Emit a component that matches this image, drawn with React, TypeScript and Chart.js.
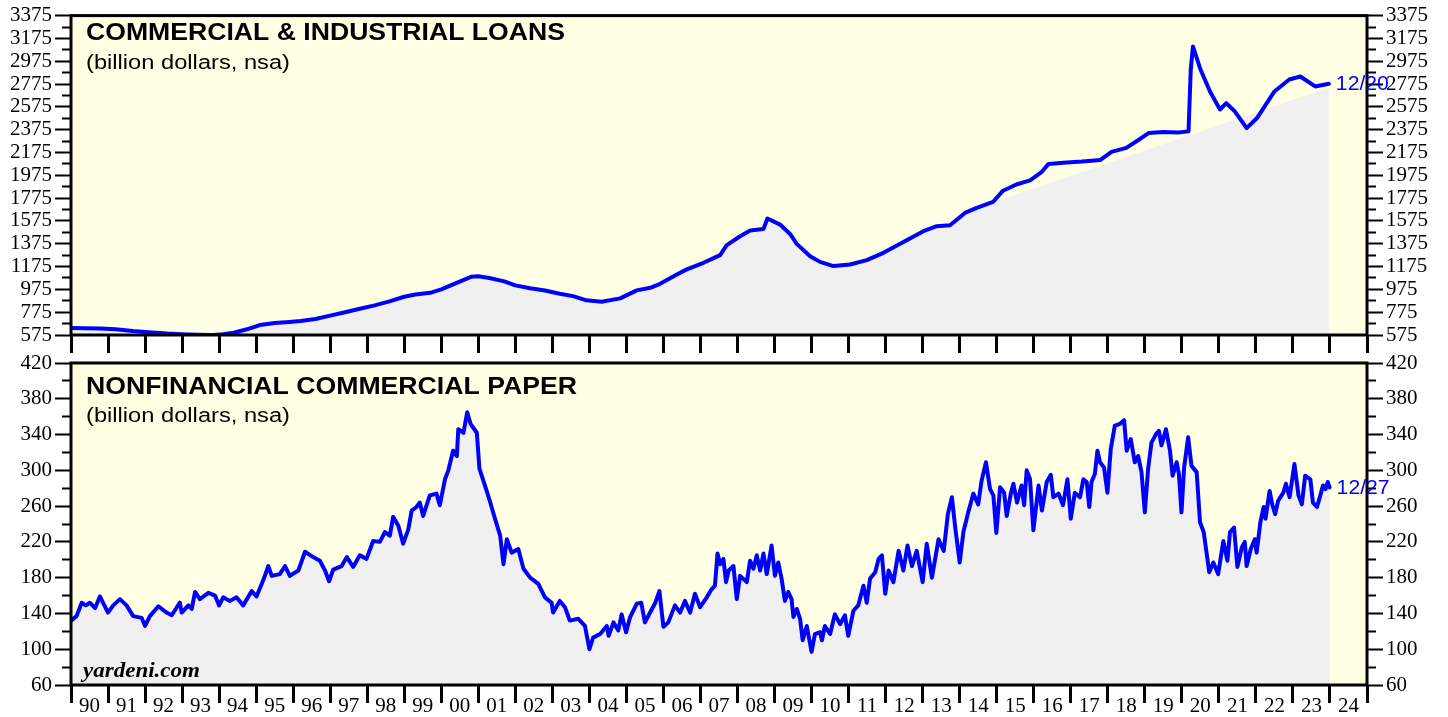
import React, { useEffect, useRef } from 'react';
import { Chart, registerables } from 'chart.js';

Chart.register(...registerables);

// ---------------- DATA ----------------
// Commercial & Industrial loans (billion dollars, nsa), decimal-year dates
const ciDates = [
  1990.0, 1990.4, 1990.8, 1991.2, 1991.67, 1992.1, 1992.6, 1993.0, 1993.4, 1993.84,
  1994.1, 1994.4, 1994.75, 1995.1, 1995.5, 1995.9, 1996.2, 1996.6, 1997.0, 1997.4,
  1997.8, 1998.2, 1998.6, 1999.0, 1999.3, 1999.7, 2000.0, 2000.4, 2000.8, 2001.0,
  2001.3, 2001.7, 2002.0, 2002.4, 2002.8, 2003.2, 2003.56, 2003.92, 2004.33, 2004.83,
  2005.28, 2005.64, 2005.91, 2006.36, 2006.63, 2007.08, 2007.53, 2007.71, 2008.07, 2008.34,
  2008.7, 2008.81, 2009.15, 2009.42, 2009.6, 2009.96, 2010.23, 2010.59, 2011.04, 2011.49,
  2011.94, 2012.48, 2013.02, 2013.38, 2013.74, 2014.14, 2014.46, 2014.9, 2015.17, 2015.53,
  2015.9, 2016.2, 2016.4, 2016.8, 2017.3, 2017.8, 2018.1, 2018.5, 2018.9, 2019.1,
  2019.5, 2019.9, 2020.18, 2020.24, 2020.3, 2020.49, 2020.76, 2021.03, 2021.2, 2021.43,
  2021.75, 2022.03, 2022.5, 2022.9, 2023.2, 2023.6, 2023.97,
];
const ciValues = [
  636, 634, 633, 625, 610, 600, 588, 582, 578, 575,
  582, 595, 625, 662, 680, 690, 697, 715, 745, 775,
  805, 835, 870, 910, 930, 945, 975, 1030, 1085, 1090,
  1075, 1045, 1010, 985, 965, 936, 916, 879, 866, 896,
  966, 989, 1024, 1106, 1150, 1208, 1275, 1363, 1441, 1491,
  1505, 1596, 1543, 1461, 1374, 1266, 1216, 1179, 1193, 1231,
  1295, 1391, 1485, 1529, 1537, 1645, 1689, 1741, 1840, 1894,
  1930, 2000, 2075, 2085, 2095, 2110, 2180, 2215, 2300, 2345,
  2355, 2350, 2360, 2900, 3105, 2914, 2710, 2552, 2607, 2535,
  2389, 2477, 2710, 2815, 2841, 2754, 2777,
];
// gray shaded area: follows the series up to the first date, then runs straight to the second
const ciShadeDates = [2014.46, 2023.97];
const ciShadeValues = [1689, 2745];

// Nonfinancial commercial paper (billion dollars, nsa)
const cpDates = [
  1990.0, 1990.15, 1990.29, 1990.4, 1990.51, 1990.65, 1990.78, 1991.0, 1991.14, 1991.32,
  1991.5, 1991.68, 1991.91, 1992.0, 1992.13, 1992.36, 1992.58, 1992.72, 1992.94, 1992.99,
  1993.17, 1993.26, 1993.35, 1993.48, 1993.71, 1993.89, 1994.0, 1994.11, 1994.29, 1994.47,
  1994.65, 1994.88, 1995.01, 1995.19, 1995.33, 1995.42, 1995.64, 1995.78, 1995.91, 1996.14,
  1996.32, 1996.54, 1996.72, 1996.86, 1996.97, 1997.08, 1997.31, 1997.45, 1997.62, 1997.8,
  1997.98, 1998.16, 1998.34, 1998.48, 1998.61, 1998.7, 1998.84, 1998.97, 1999.11, 1999.2,
  1999.33, 1999.42, 1999.51, 1999.69, 1999.87, 1999.96, 2000.1, 2000.19, 2000.32, 2000.42,
  2000.46, 2000.6, 2000.7, 2000.79, 2000.96, 2001.03, 2001.18, 2001.31, 2001.45, 2001.59,
  2001.68, 2001.77, 2001.9, 2002.08, 2002.22, 2002.4, 2002.62, 2002.8, 2002.98, 2003.02,
  2003.2, 2003.34, 2003.47, 2003.7, 2003.88, 2004.0, 2004.1, 2004.29, 2004.47, 2004.52,
  2004.65, 2004.78, 2004.87, 2004.99, 2005.1, 2005.28, 2005.4, 2005.5, 2005.64, 2005.78,
  2005.89, 2006.0, 2006.13, 2006.31, 2006.45, 2006.58, 2006.72, 2006.85, 2006.99, 2007.17,
  2007.3, 2007.39, 2007.46, 2007.53, 2007.62, 2007.69, 2007.76, 2007.89, 2007.98, 2008.07,
  2008.25, 2008.34, 2008.43, 2008.52, 2008.61, 2008.7, 2008.79, 2008.92, 2009.01, 2009.1,
  2009.19, 2009.28, 2009.37, 2009.46, 2009.51, 2009.6, 2009.69, 2009.76, 2009.87, 2010.0,
  2010.09, 2010.23, 2010.28, 2010.36, 2010.5, 2010.63, 2010.77, 2010.9, 2010.99, 2011.13,
  2011.26, 2011.4, 2011.49, 2011.58, 2011.72, 2011.81, 2011.9, 2011.99, 2012.08, 2012.21,
  2012.35, 2012.48, 2012.59, 2012.71, 2012.84, 2013.0, 2013.11, 2013.25, 2013.43, 2013.57,
  2013.68, 2013.79, 2013.88, 2014.0, 2014.1, 2014.23, 2014.37, 2014.5, 2014.59, 2014.71,
  2014.82, 2014.91, 2014.99, 2015.09, 2015.2, 2015.27, 2015.38, 2015.45, 2015.55, 2015.67,
  2015.74, 2015.81, 2015.9, 2015.99, 2016.13, 2016.22, 2016.35, 2016.46, 2016.53, 2016.67,
  2016.79, 2016.91, 2017.0, 2017.11, 2017.25, 2017.34, 2017.43, 2017.5, 2017.56, 2017.65,
  2017.72, 2017.79, 2017.9, 2017.99, 2018.08, 2018.19, 2018.33, 2018.44, 2018.51, 2018.62,
  2018.73, 2018.82, 2018.91, 2019.0, 2019.09, 2019.18, 2019.31, 2019.38, 2019.45, 2019.57,
  2019.68, 2019.75, 2019.86, 2019.92, 2019.99, 2020.06, 2020.17, 2020.26, 2020.4, 2020.49,
  2020.59, 2020.67, 2020.74, 2020.85, 2020.98, 2021.12, 2021.23, 2021.3, 2021.41, 2021.5,
  2021.62, 2021.7, 2021.75, 2021.86, 2021.97, 2022.02, 2022.12, 2022.21, 2022.26, 2022.37,
  2022.44, 2022.52, 2022.6, 2022.74, 2022.81, 2022.91, 2023.04, 2023.15, 2023.24, 2023.33,
  2023.47, 2023.54, 2023.65, 2023.74, 2023.81, 2023.88, 2023.94, 2023.99,
];
const cpValues = [
  132, 137, 152, 149, 152, 146, 159, 141, 149, 156,
  149, 137, 135, 126, 137, 148, 141, 138, 152, 141,
  149, 145, 164, 156, 163, 160, 149, 158, 154, 158,
  149, 165, 159, 177, 193, 182, 184, 193, 182, 188,
  209, 203, 199, 188, 176, 189, 193, 203, 192, 205,
  201, 221, 220, 231, 227, 248, 238, 218, 234, 255,
  259, 264, 249, 272, 274, 261, 290, 300, 322, 316,
  346, 342, 365, 352, 342, 302, 283, 266, 246, 227,
  195, 223, 208, 212, 190, 180, 173, 158, 152, 141,
  154, 147, 132, 134, 126, 100, 113, 117, 126, 115,
  130, 121, 139, 119, 136, 151, 152, 130, 141, 152,
  165, 125, 130, 149, 141, 154, 141, 162, 147, 158,
  167, 171, 207, 195, 201, 175, 188, 193, 156, 182,
  175, 199, 190, 205, 188, 207, 184, 216, 182, 197,
  179, 154, 164, 156, 136, 145, 134, 110, 126, 97,
  117, 119, 110, 126, 117, 139, 128, 138, 115, 143,
  149, 171, 152, 179, 186, 201, 205, 162, 188, 175,
  210, 188, 216, 193, 210, 175, 218, 180, 223, 210,
  251, 270, 236, 197, 231, 253, 274, 262, 288, 309,
  279, 272, 230, 281, 275, 249, 274, 285, 264, 283,
  261, 300, 290, 233, 283, 255, 287, 295, 270, 274,
  261, 290, 246, 275, 270, 290, 287, 259, 287, 296,
  322, 309, 303, 275, 324, 350, 352, 356, 322, 335,
  309, 316, 298, 253, 302, 331, 341, 344, 328, 346,
  322, 294, 309, 296, 253, 303, 337, 305, 298, 242,
  231, 207, 186, 197, 184, 221, 199, 231, 236, 192,
  214, 220, 193, 212, 223, 208, 242, 259, 246, 277,
  262, 251, 266, 275, 285, 270, 307, 272, 262, 294,
  290, 264, 259, 272, 283, 279, 287, 281,
];

// Axis ticks
const yearTicks = [
  1990, 1991, 1992, 1993, 1994, 1995, 1996, 1997, 1998, 1999, 2000, 2001,
  2002, 2003, 2004, 2005, 2006, 2007, 2008, 2009, 2010, 2011, 2012, 2013,
  2014, 2015, 2016, 2017, 2018, 2019, 2020, 2021, 2022, 2023, 2024, 2025,
];
const yearLabels = [
  '90', '91', '92', '93', '94', '95', '96', '97', '98', '99', '00', '01',
  '02', '03', '04', '05', '06', '07', '08', '09', '10', '11', '12', '13',
  '14', '15', '16', '17', '18', '19', '20', '21', '22', '23', '24', '',
];
const ciMajorTicks = [575, 775, 975, 1175, 1375, 1575, 1775, 1975, 2175, 2375, 2575, 2775, 2975, 3175, 3375];
const ciMinorTicks = [675, 875, 1075, 1275, 1475, 1675, 1875, 2075, 2275, 2475, 2675, 2875, 3075, 3275];
const cpMajorTicks = [60, 100, 140, 180, 220, 260, 300, 340, 380, 420];
const cpMinorTicks = [80, 120, 160, 200, 240, 280, 320, 360, 400];

const ciTitle = 'COMMERCIAL & INDUSTRIAL LOANS';
const cpTitle = 'NONFINANCIAL COMMERCIAL PAPER';
const unitsText = '(billion dollars, nsa)';
const ciLastLabel = '12/20';
const cpLastLabel = '12/27';
const sourceText = 'yardeni.com';

// ---------------- STYLE ----------------
const W = 1448;
const H = 717;
const PLOT_BG = '#FFFFE3';
const SHADE = '#F0F0F0';
const LINE = '#0000FF';
const SERIF = "'Liberation Serif', 'Times New Roman', serif";
const SANS = "'Liberation Sans', Arial, sans-serif";

function fittedText(
  ctx: CanvasRenderingContext2D,
  text: string,
  x: number,
  y: number,
  font: string,
  color: string,
  targetWidth: number,
  baseline: CanvasTextBaseline = 'middle'
) {
  ctx.save();
  ctx.font = font;
  ctx.fillStyle = color;
  ctx.textBaseline = baseline;
  ctx.textAlign = 'left';
  const w = ctx.measureText(text).width || 1;
  ctx.translate(x, y);
  ctx.scale(targetWidth / w, 1);
  ctx.fillText(text, 0, 0);
  ctx.restore();
}

function yAxis(position: 'left' | 'right', major: number[], minor: number[], min: number, max: number, width: number) {
  const all = [...major, ...minor].sort((a, b) => a - b);
  // Chart.js draws left-axis ticks from the outer end inwards, right-axis ticks from the axis outwards
  const minorDash = position === 'left' ? [0, 7, 9, 100] : [9, 100];
  return {
    type: 'linear',
    position,
    min,
    max,
    afterBuildTicks: (s: any) => {
      s.ticks = all.map((v) => ({ value: v }));
    },
    afterFit: (s: any) => {
      s.width = width;
    },
    ticks: {
      autoSkip: false,
      padding: 3,
      color: '#000',
      font: { family: SERIF, size: 21 },
      callback: (v: number) => (major.includes(v) ? String(v) : ''),
    },
    grid: {
      display: true,
      drawOnChartArea: false,
      drawTicks: true,
      tickLength: 16,
      tickWidth: 2,
      tickColor: '#000',
      tickBorderDash: (c: any) => (c.tick && minor.includes(c.tick.value) ? minorDash : []),
    },
    border: { display: false },
  };
}

type PanelSpec = {
  dates: number[];
  values: number[];
  shade: { x: number; y: number }[];
  yMin: number;
  yMax: number;
  major: number[];
  minor: number[];
  padTop: number;
  padBottom: number;
  xHeight: number;
  showXLabels: boolean;
  lineWidth: number;
  title: string;
  titleWidth: number;
  titleY: number;
  subY: number;
  lastLabel: string;
  source: boolean;
};

function buildChart(canvas: HTMLCanvasElement, p: PanelSpec) {
  const lineData = p.dates.map((d, i) => ({ x: d, y: p.values[i] }));
  const panelPlugin = {
    id: 'panelDecor',
    beforeDraw(chart: any) {
      const { ctx, chartArea: a } = chart;
      ctx.save();
      ctx.fillStyle = PLOT_BG;
      ctx.fillRect(a.left, a.top, a.right - a.left, a.bottom - a.top);
      ctx.restore();
    },
    afterDraw(chart: any) {
      const { ctx, chartArea: a } = chart;
      ctx.save();
      ctx.strokeStyle = '#000';
      ctx.lineWidth = 3;
      ctx.strokeRect(a.left, a.top, a.right - a.left, a.bottom - a.top);
      ctx.restore();
      fittedText(ctx, p.title, 86, p.titleY, `bold 24px ${SANS}`, '#000', p.titleWidth);
      fittedText(ctx, unitsText, 86, p.subY, `20px ${SANS}`, '#000', 204);
      if (p.source) {
        fittedText(ctx, sourceText, 83, 677, `bold italic 20px ${SERIF}`, '#000', 117, 'alphabetic');
      }
      const xs = chart.scales.x;
      const ys = chart.scales.y;
      const n = p.dates.length - 1;
      const lx = xs.getPixelForValue(p.dates[n]);
      const ly = ys.getPixelForValue(p.values[n]);
      fittedText(ctx, p.lastLabel, lx + 7, ly + 1, `20px ${SANS}`, LINE, 53);
    },
  };

  return new Chart(canvas, {
    type: 'line',
    data: {
      datasets: [
        {
          data: lineData,
          borderColor: LINE,
          borderWidth: p.lineWidth,
          pointRadius: 0,
          fill: false,
          tension: 0,
          borderJoinStyle: 'round',
          borderCapStyle: 'round',
          yAxisID: 'y',
        },
        {
          data: p.shade,
          borderWidth: 0,
          borderColor: 'rgba(0,0,0,0)',
          backgroundColor: SHADE,
          pointRadius: 0,
          fill: 'start',
          tension: 0,
          yAxisID: 'y',
        },
      ],
    },
    options: {
      responsive: false,
      animation: false,
      devicePixelRatio: 1,
      parsing: false,
      normalized: true,
      layout: { padding: { top: p.padTop, bottom: p.padBottom, left: 0, right: 0 } },
      plugins: { legend: { display: false }, tooltip: { enabled: false }, title: { display: false } },
      events: [],
      scales: {
        x: {
          type: 'linear',
          position: 'bottom',
          min: 1990,
          max: 2025,
          afterBuildTicks: (s: any) => {
            s.ticks = yearTicks.map((v) => ({ value: v }));
          },
          afterFit: (s: any) => {
            s.height = p.xHeight;
          },
          ticks: {
            autoSkip: false,
            maxRotation: 0,
            minRotation: 0,
            padding: -9,
            labelOffset: 18.5,
            color: '#000',
            font: { family: SERIF, size: 21 },
            callback: (_v: number, i: number) => (p.showXLabels ? yearLabels[i] ?? '' : ''),
          },
          grid: {
            display: true,
            drawOnChartArea: false,
            drawTicks: true,
            tickLength: 18,
            tickWidth: 3,
            tickColor: '#000',
          },
          border: { display: false },
        },
        y: yAxis('left', p.major, p.minor, p.yMin, p.yMax, 71),
        y2: yAxis('right', p.major, p.minor, p.yMin, p.yMax, W - 1367),
      },
    } as any,
    plugins: [panelPlugin],
  } as any);
}

export default function App() {
  const topRef = useRef<HTMLCanvasElement | null>(null);
  const botRef = useRef<HTMLCanvasElement | null>(null);

  useEffect(() => {
    if (!topRef.current || !botRef.current) return;

    const ciCut = ciDates.findIndex((d) => d >= ciShadeDates[0]);
    const ciShade = [
      ...ciDates.slice(0, ciCut).map((d, i) => ({ x: d, y: ciValues[i] })),
      ...ciShadeDates.map((d, i) => ({ x: d, y: ciShadeValues[i] })),
    ];
    const cpShade = cpDates.map((d, i) => ({ x: d, y: cpValues[i] }));

    const c1 = buildChart(topRef.current, {
      dates: ciDates,
      values: ciValues,
      shade: ciShade,
      yMin: 575,
      yMax: 3375,
      major: ciMajorTicks,
      minor: ciMinorTicks,
      padTop: 14,
      padBottom: H - 335 - 20,
      xHeight: 20,
      showXLabels: false,
      lineWidth: 4,
      title: ciTitle,
      titleWidth: 479,
      titleY: 33,
      subY: 63,
      lastLabel: ciLastLabel,
      source: false,
    });
    const c2 = buildChart(botRef.current, {
      dates: cpDates,
      values: cpValues,
      shade: cpShade,
      yMin: 60,
      yMax: 420,
      major: cpMajorTicks,
      minor: cpMinorTicks,
      padTop: 363,
      padBottom: 2,
      xHeight: 30,
      showXLabels: true,
      lineWidth: 4,
      title: cpTitle,
      titleWidth: 491,
      titleY: 387,
      subY: 416,
      lastLabel: cpLastLabel,
      source: true,
    });
    return () => {
      c1.destroy();
      c2.destroy();
    };
  }, []);

  const canvasStyle: React.CSSProperties = { position: 'absolute', left: 0, top: 0, width: W, height: H, display: 'block' };
  return (
    <div style={{ position: 'fixed', left: 0, top: 0, width: W, height: H, background: '#fff', overflow: 'hidden' }}>
      <canvas ref={topRef} width={W} height={H} style={canvasStyle} />
      <canvas ref={botRef} width={W} height={H} style={canvasStyle} />
    </div>
  );
}
